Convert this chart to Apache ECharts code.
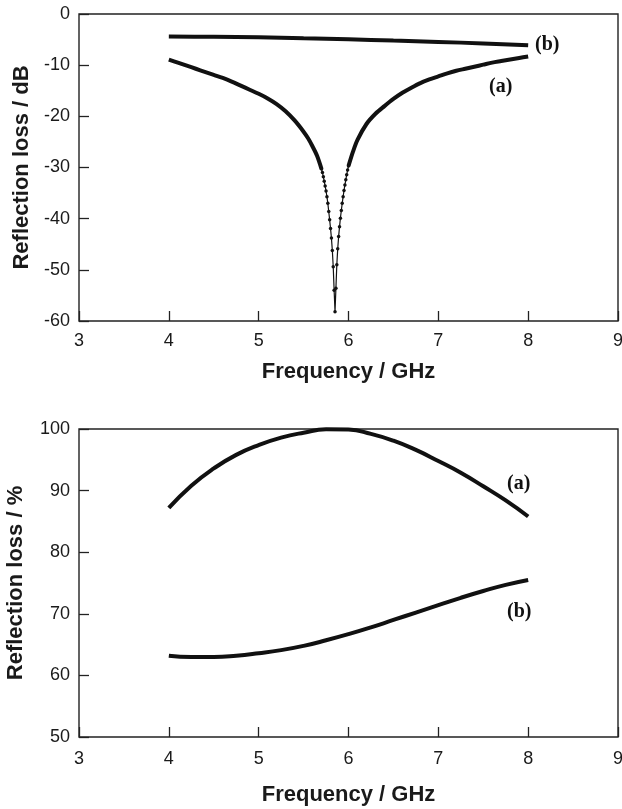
<!DOCTYPE html>
<html><head><meta charset="utf-8">
<script src="https://cdn.jsdelivr.net/npm/echarts@6/dist/echarts.min.js"></script>
<style>html,body{margin:0;padding:0;background:#fff}#c{width:622px;height:809px}</style>
</head><body><div id="c"></div>
<script>
// ---- Tick definitions ----
const xTicks = [3, 4, 5, 6, 7, 8, 9];
const topYTicks = [0, -10, -20, -30, -40, -50, -60];
const botYTicks = [50, 60, 70, 80, 90, 100];

// ---- Top panel: reflection loss (dB) ----
// (a) outer branches (thick)
const topA_leftF = [4.0,4.1,4.2,4.3,4.4,4.5,4.6,4.7,4.8,4.9,5.0,5.1,5.2,5.3,5.4,5.5,5.55,5.6,5.65,5.7];
const topA_leftV = [-8.9,-9.5,-10.1,-10.7,-11.3,-11.9,-12.5,-13.2,-14.0,-14.8,-15.6,-16.5,-17.6,-19.0,-20.8,-23.0,-24.3,-25.9,-27.7,-30.3];
const topA_rightF = [6.0,6.05,6.1,6.2,6.3,6.4,6.5,6.6,6.7,6.8,6.9,7.0,7.1,7.2,7.3,7.4,7.5,7.6,7.7,7.8,7.9,8.0];
const topA_rightV = [-29.7,-26.9,-24.6,-21.5,-19.5,-18.0,-16.6,-15.4,-14.4,-13.5,-12.8,-12.2,-11.6,-11.1,-10.7,-10.3,-9.9,-9.5,-9.2,-8.9,-8.6,-8.3];
// (a) dip (thin line with markers)
const topA_dipF = [5.70,5.71,5.72,5.73,5.74,5.75,5.76,5.77,5.78,5.79,5.80,5.81,5.82,5.83,5.84,5.85,5.86,5.87,5.88,5.89,5.90,5.91,5.92,5.93,5.94,5.95,5.96,5.97,5.98,5.99,6.00];
const topA_dipV = [-30.3,-31.0,-31.8,-32.7,-33.6,-34.6,-35.7,-37.0,-38.6,-40.2,-41.9,-43.8,-46.2,-49.4,-54.0,-58.2,-53.6,-49.0,-45.9,-43.5,-41.6,-39.9,-38.4,-37.0,-35.7,-34.5,-33.4,-32.4,-31.4,-30.5,-29.7];
// (b)
const topB_F = [4.0,4.5,5.0,5.5,6.0,6.5,7.0,7.5,8.0];
const topB_V = [-4.4,-4.45,-4.55,-4.75,-4.95,-5.2,-5.45,-5.75,-6.1];

// ---- Bottom panel: reflection loss (%) ----
const botF = [4.0,4.25,4.5,4.75,5.0,5.25,5.5,5.75,6.0,6.25,6.5,6.75,7.0,7.25,7.5,7.75,8.0];
const botA_V = [87.2,90.8,93.6,95.8,97.4,98.6,99.4,99.95,99.9,99.2,98.1,96.6,94.8,92.9,90.7,88.4,85.8];
const botB_V = [63.2,63.0,63.0,63.2,63.6,64.1,64.8,65.7,66.7,67.8,69.0,70.2,71.4,72.6,73.7,74.7,75.5];

const zip = (f, v) => f.map((x, i) => [x, v[i]]);

const axisFont = 'Liberation Sans, Arial, sans-serif';
const labelColor = '#1a1a1a';
const lineColor = '#111';

function xAxisCfg(gi, gap, margin) {
  return {
    type: 'value', gridIndex: gi, min: xTicks[0], max: xTicks[xTicks.length - 1], interval: 1,
    name: 'Frequency / GHz', nameLocation: 'middle', nameGap: gap,
    nameTextStyle: { fontFamily: axisFont, fontWeight: 'bold', fontSize: 22, color: labelColor },
    axisLine: { show: false, onZero: false },
    axisTick: { show: true, inside: true, length: 10, lineStyle: { color: '#222', width: 1.3 } },
    axisLabel: { fontFamily: axisFont, fontSize: 18, color: labelColor, margin: margin, showMinLabel: true, showMaxLabel: true },
    splitLine: { show: false }
  };
}
function yAxisCfg(gi, ticks, name, gap) {
  const mn = Math.min(...ticks), mx = Math.max(...ticks);
  return {
    type: 'value', gridIndex: gi, min: mn, max: mx, interval: 10,
    name: name, nameLocation: 'middle', nameGap: gap, nameRotate: 90,
    nameTextStyle: { fontFamily: axisFont, fontWeight: 'bold', fontSize: 22, color: labelColor },
    axisLine: { show: false, onZero: false },
    axisTick: { show: true, inside: true, length: 10, lineStyle: { color: '#222', width: 1.3 } },
    axisLabel: { fontFamily: axisFont, fontSize: 18, color: labelColor, margin: 9 },
    splitLine: { show: false }
  };
}

const chart = echarts.init(document.getElementById('c'), null, { renderer: 'canvas' });
const serif = 'Liberation Serif, Times New Roman, serif';
const tag = (text, x, y) => ({ type: 'text', left: x, top: y, style: { text: text, font: 'bold 20px ' + serif, fill: '#111' } });

chart.setOption({
  animation: false,
  backgroundColor: '#fff',
  grid: [
    { left: 79, right: 4, top: 14, height: 307, show: true, borderColor: '#222', borderWidth: 1.4, backgroundColor: 'transparent', containLabel: false, outerBoundsMode: 'none' },
    { left: 79, right: 4, top: 429, height: 308, show: true, borderColor: '#222', borderWidth: 1.4, backgroundColor: 'transparent', containLabel: false, outerBoundsMode: 'none' }
  ],
  xAxis: [xAxisCfg(0, 40, 11), xAxisCfg(1, 47, 13)],
  yAxis: [yAxisCfg(0, topYTicks, 'Reflection loss / dB', 43), yAxisCfg(1, botYTicks, 'Reflection loss / %', 52)],
  series: [
    { type: 'line', xAxisIndex: 0, yAxisIndex: 0, data: zip(topA_leftF, topA_leftV), smooth: 0.3, showSymbol: false, lineStyle: { color: lineColor, width: 4 } },
    { type: 'line', xAxisIndex: 0, yAxisIndex: 0, data: zip(topA_rightF, topA_rightV), smooth: 0.3, showSymbol: false, lineStyle: { color: lineColor, width: 4 } },
    { type: 'line', xAxisIndex: 0, yAxisIndex: 0, data: zip(topA_dipF, topA_dipV), symbol: 'circle', symbolSize: 3.5, showSymbol: true, itemStyle: { color: lineColor }, lineStyle: { color: lineColor, width: 1.2 } },
    { type: 'line', xAxisIndex: 0, yAxisIndex: 0, data: zip(topB_F, topB_V), smooth: 0.3, showSymbol: false, lineStyle: { color: lineColor, width: 4 } },
    { type: 'line', xAxisIndex: 1, yAxisIndex: 1, data: zip(botF, botA_V), smooth: 0.5, showSymbol: false, lineStyle: { color: lineColor, width: 4 } },
    { type: 'line', xAxisIndex: 1, yAxisIndex: 1, data: zip(botF, botB_V), smooth: 0.5, showSymbol: false, lineStyle: { color: lineColor, width: 4 } }
  ],
  graphic: [
    tag('(b)', 535, 35),
    tag('(a)', 489, 77),
    tag('(a)', 507, 474),
    tag('(b)', 507, 602)
  ]
});
</script></body></html>
